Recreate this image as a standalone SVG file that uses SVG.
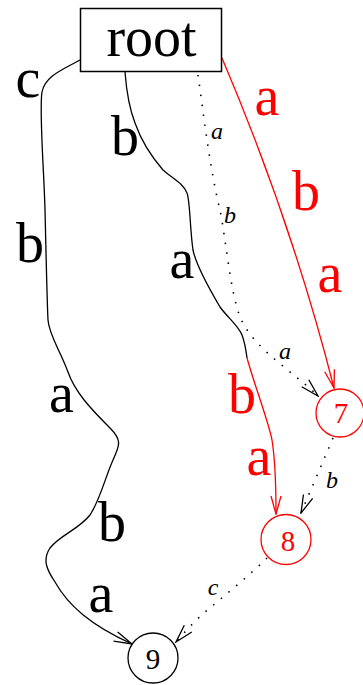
<svg xmlns="http://www.w3.org/2000/svg" width="363" height="685" viewBox="0 0 363 685">
  <style>
    .box { fill: #fff; stroke: #000; stroke-width: 1.5; }
    .nb { fill: #fff; stroke: #000; stroke-width: 1.3; }
    .nr { fill: #fff; stroke: #ff0000; stroke-width: 1.3; }
    .e { fill: none; stroke: #000; stroke-width: 1.3; }
    .er { fill: none; stroke: #ff0000; stroke-width: 1.3; }
    .ed { fill: none; stroke: #000; stroke-width: 1.6; stroke-dasharray: 1.5 8.5; }
    .big { font-family: "Liberation Serif", "Times New Roman", serif; font-size: 56px; text-anchor: middle; }
    .lbl { font-family: "Liberation Serif", "Times New Roman", serif; font-size: 29px; text-anchor: middle; }
    .it { font-family: "Liberation Serif", "Times New Roman", serif; font-size: 24px; font-style: italic; text-anchor: middle; fill: #000; }
    .red { fill: #ff0000; }
    .blk { fill: #000; }
  </style>
  <defs>
    <marker id="ab" viewBox="0 0 20 12" refX="19" refY="6" markerWidth="20" markerHeight="12" markerUnits="userSpaceOnUse" orient="auto">
      <path d="M1,1 L19,6 L1,11" fill="none" stroke="#000" stroke-width="1.3"/>
    </marker>
    <marker id="ar" viewBox="0 0 20 12" refX="19" refY="6" markerWidth="20" markerHeight="12" markerUnits="userSpaceOnUse" orient="auto">
      <path d="M1,1 L19,6 L1,11" fill="none" stroke="#ff0000" stroke-width="1.3"/>
    </marker>
  </defs>

  <g id="connectors">
    <path class="e" marker-end="url(#ab)" d="M80,60 C62,70 45,76 42,92 C39,110 44,170 45,210 C46,250 47,300 48,320 C49,335 60,350 68,372 C75,392 90,408 110,428 C122,440 120,445 113,460 C105,478 100,500 90,515 C78,530 60,535 50,548 C42,560 47,570 55,582 C68,605 90,625 132,644"/>
    <path class="e" d="M125,72 C126,85 128,105 135,123 C141,140 150,155 163,170 C172,178 183,183 187,193 C190,200 190,230 193,250 C196,265 210,290 220,307 C228,318 238,325 242,335 C245,343 246,350 247,358"/>
    <path class="er" marker-end="url(#ar)" d="M247,358 C256,390 268,420 272,440 C276,465 276,490 276,514"/>
    <path class="er" marker-end="url(#ar)" d="M222,58 C262,152 302,262 334,388"/>
    <path class="ed" marker-end="url(#ab)" d="M198,75 C203,110 210,170 220,210 C226,240 230,290 240,317 C250,340 270,355 285,368 C300,380 310,388 318,396"/>
    <path class="ed" marker-end="url(#ab)" d="M333,438 L301,513"/>
    <path class="ed" marker-end="url(#ab)" d="M267,558 C250,575 225,595 210,608 C195,620 185,632 176,642"/>

    <text class="big blk" x="28" y="97">c</text>
    <text class="big blk" x="30" y="262">b</text>
    <text class="big blk" x="61.5" y="412">a</text>
    <text class="big blk" x="112" y="541">b</text>
    <text class="big blk" x="101" y="612">a</text>
    <text class="big blk" x="125" y="155">b</text>
    <text class="big blk" x="182" y="278">a</text>
    <text class="big red" x="242" y="413">b</text>
    <text class="big red" x="259" y="475">a</text>
    <text class="big red" x="267" y="115">a</text>
    <text class="big red" x="306" y="210">b</text>
    <text class="big red" x="330" y="292">a</text>
    <text class="it" x="217" y="139">a</text>
    <text class="it" x="230" y="223">b</text>
    <text class="it" x="285" y="359">a</text>
    <text class="it" x="332" y="488">b</text>
    <text class="it" x="213" y="595">c</text>
  </g>

  <g id="root">
    <rect class="box" x="80.5" y="8.5" width="141" height="63"/>
    <text class="big blk" x="151.5" y="56">root</text>
  </g>
  <g id="n7">
    <circle class="nr" cx="340" cy="413" r="24"/>
    <text class="lbl red" x="341" y="423">7</text>
  </g>
  <g id="n8">
    <circle class="nr" cx="286" cy="539.5" r="25"/>
    <text class="lbl red" x="288" y="551">8</text>
  </g>
  <g id="n9">
    <circle class="nb" cx="153" cy="658" r="25"/>
    <text class="lbl blk" x="153" y="669">9</text>
  </g>
</svg>
